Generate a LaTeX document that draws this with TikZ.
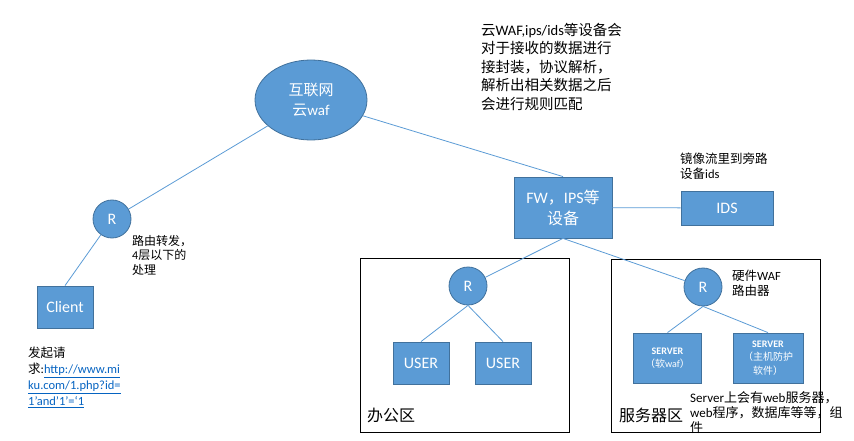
\documentclass[tikz,border=0pt]{standalone}
\usepackage{fontspec}
\setmainfont{Noto Sans CJK SC}
\newfontfamily\lat{Carlito}
\usetikzlibrary{positioning, shapes.geometric}
\definecolor{nodeBlue}{HTML}{5B9BD5}
\definecolor{nodeEdge}{HTML}{41719C}
\definecolor{linkBlue}{HTML}{0563C1}
\tikzset{
  linkL/.style={nodeBlue, line width=0.8pt},
  boxBlue/.style={rectangle, draw=nodeEdge, fill=nodeBlue, text=white,
                  align=center, line width=0.8pt, inner sep=2pt},
  routerR/.style={circle, draw=nodeEdge, fill=nodeBlue, text=white,
                  minimum size=38pt, inner sep=0pt, line width=0.8pt,
                  font=\lat\fontsize{16}{19}\selectfont},
  cloudE/.style={ellipse, draw=nodeEdge, fill=nodeBlue, text=white,
                 align=center, line width=0.8pt, minimum width=112pt,
                 minimum height=80pt, font=\fontsize{15}{20}\selectfont},
  zoneBox/.style={rectangle, draw=black, line width=0.8pt},
  noteT/.style={align=left, anchor=north west, inner sep=0pt},
}

\begin{document}
\begin{tikzpicture}[x=1pt, y=-1pt, font=\fontsize{12.5}{15}\selectfont]
  \useasboundingbox (0,0) rectangle (854,441);
  % zones
  \node[zoneBox, minimum width=209pt, minimum height=174pt] (office) at (464.5,345) {};
  \node[zoneBox, minimum width=209pt, minimum height=173pt] (srvzone) at (715.5,345.5) {};
  \node[anchor=west, inner sep=0pt, font=\fontsize{16}{19}\selectfont] (officeL) at (367,415) {办公区};
  \node[anchor=west, inner sep=0pt, font=\fontsize{16}{19}\selectfont] (srvzoneL) at (619,415) {服务器区};

  % devices
  \node[cloudE] (cloud) at (311,100) {互联网\\云{\lat waf}};
  \node[boxBlue, minimum width=98pt, minimum height=61pt,
        font=\fontsize{16}{21}\selectfont] (fw) at (563,207.5) {{\lat FW}，{\lat IPS}等\\设备};
  \node[boxBlue, minimum width=92pt, minimum height=34pt,
        font=\lat\fontsize{16}{19}\selectfont] (ids) at (727,208) {IDS};
  \node[routerR] (r1) at (112,219) {R};
  \node[boxBlue, minimum width=56pt, minimum height=42pt,
        font=\lat\fontsize{16}{19}\selectfont] (client) at (65,307) {Client};
  \node[routerR] (r2) at (468,286) {R};
  \node[boxBlue, minimum width=56pt, minimum height=42pt,
        font=\lat\fontsize{16}{19}\selectfont] (user1) at (421,363) {USER};
  \node[boxBlue, minimum width=56pt, minimum height=42pt,
        font=\lat\fontsize{16}{19}\selectfont] (user2) at (503,363) {USER};
  \node[routerR] (r3) at (703,287) {R};
  \node[boxBlue, minimum width=68pt, minimum height=50pt,
        font=\fontsize{10}{13.5}\selectfont] (srv1) at (667.5,358)
        {{\lat\bfseries SERVER}\\（软{\lat waf}）};
  \node[boxBlue, minimum width=70pt, minimum height=50pt,
        font=\fontsize{10}{13.5}\selectfont] (srv2) at (768,358)
        {{\lat\bfseries SERVER}\\（主机防护\\软件）};

  % links
  \draw[linkL] (cloud) -- (r1);
  \draw[linkL] (cloud) -- (fw.north);
  \draw[linkL] (fw) -- (ids);
  \draw[linkL] (r1) -- (client.north);
  \draw[linkL] (fw.south) -- (r2);
  \draw[linkL] (fw.south) -- (r3);
  \draw[linkL] (r2.south) -- (user1.north);
  \draw[linkL] (r2.south) -- (user2.north);
  \draw[linkL] (r3.south) -- (srv1.north);
  \draw[linkL] (r3.south) -- (srv2.north);

  % notes
  \node[noteT, font=\fontsize{14.5}{18.5}\selectfont] (topnote) at (481,23)
    {云{\lat WAF,ips/ids}等设备会\\对于接收的数据进行\\接封装，协议解析，\\解析出相关数据之后\\会进行规则匹配};
  \node[noteT] (idsnote) at (680,153) {镜像流里到旁路\\设备{\lat ids}};
  \node[noteT, font=\fontsize{12}{14.5}\selectfont] (r1note) at (132,235)
    {路由转发，\\{\lat 4}层以下的\\处理};
  \node[noteT] (r3note) at (732,270) {硬件{\lat WAF}\\路由器};
  \node[noteT, font=\fontsize{12.5}{16}\selectfont] (reqnote) at (28,347)
    {发起请\\求{\lat :\color{linkBlue}\underline{http://www.mi}}\\
     {\lat\color{linkBlue}\underline{ku.com/1.php?id=}}\\
     {\lat\color{linkBlue}\underline{1’and’1’=‘1}}};
  \node[noteT, font=\fontsize{13}{15}\selectfont] (srvnote) at (690,391)
    {{\lat Server}上会有{\lat web}服务器，\\{\lat web}程序，数据库等等，组\\件};
\end{tikzpicture}
\end{document}
